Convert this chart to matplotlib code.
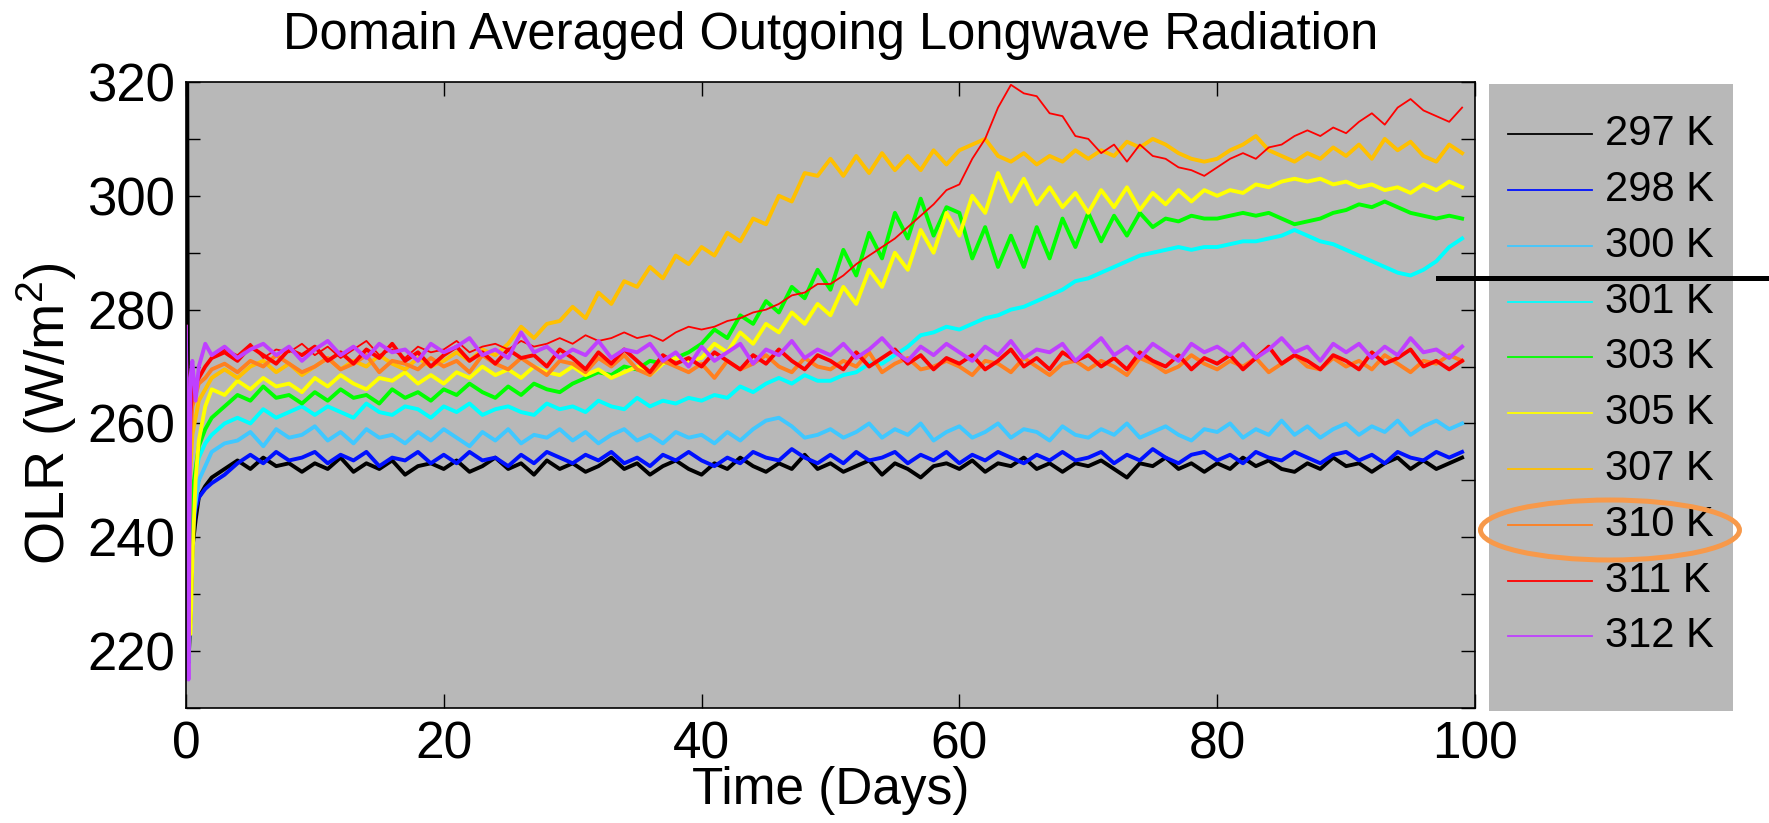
import matplotlib
matplotlib.use("Agg")
import matplotlib.pyplot as plt
from matplotlib.lines import Line2D
from matplotlib.patches import Ellipse
from matplotlib.ticker import MultipleLocator

plt.rcParams['font.family'] = ['Liberation Sans', 'DejaVu Sans']
plt.rcParams['mathtext.fontset'] = 'custom'
plt.rcParams['mathtext.rm'] = 'Liberation Sans'

# time axis (days): a few samples in the first day, then one per day
t_early = [0, 0.1, 0.2, 0.35, 0.5, 0.75, 1.0, 1.5]
t_daily = list(range(2, 100))
time_days = t_early + t_daily

labels = ['297 K', '298 K', '300 K', '301 K', '303 K',
          '305 K', '307 K', '310 K', '311 K', '312 K']
colors = ['#000000', '#0010FF', '#40C8FF', '#00FFFF', '#00FF00',
          '#FFFF00', '#FFC000', '#FF8020', '#FF0000', '#BF40FF']

# domain averaged OLR (W/m2)
olr_297 = [325, 322, 218, 226, 238, 243, 247, 249,
           250.5, 252, 253.5, 252, 254, 252.5, 253, 251.5,
           253, 252, 254, 251.5, 253, 252, 253.5, 251, 252.5, 253,
           252, 253.5, 251.5, 252.5, 254, 252, 253, 251, 253.5, 252,
           253, 251.5, 252.5, 254, 252, 253, 251, 252.5, 253.5, 252,
           251, 253, 252, 254, 252.5, 251.5, 253, 252, 254.5, 252,
           253, 251.5, 252.5, 253.5, 251, 253, 252, 250.5, 252.5, 253,
           252, 253.5, 251.5, 253, 252.5, 254, 252, 253, 251.5, 253,
           252.5, 253.5, 252, 250.5, 253, 252.5, 254, 252, 253, 251.5,
           253, 252, 254, 252.5, 253.5, 252, 251.5, 253, 252, 254,
           252.5, 253, 251.5, 253, 254, 252, 253.5, 252, 253, 254]

olr_298 = [270, 220, 222, 232, 240, 245, 247, 248.5,
           249.5, 251, 253, 254.5, 253, 255, 253.5, 254,
           255, 253, 254.5, 253.5, 255, 252.5, 254, 253.5, 255, 253,
           254.5, 253, 255, 253.5, 254, 252.5, 254.5, 253, 255, 254,
           253, 254.5, 253.5, 255, 253, 254, 252.5, 254.5, 253.5, 255,
           253.5, 252.5, 254, 253, 255, 254, 253.5, 255.5, 254, 253,
           254.5, 253, 255, 253.5, 254, 255, 253, 254.5, 253.5, 255,
           253, 254.5, 253.5, 255, 254, 253, 254.5, 253.5, 255, 253.5,
           254, 255, 253, 254.5, 253.5, 255.5, 254, 253, 254.5, 255,
           253.5, 254.5, 253, 255, 254, 253.5, 255, 254, 253, 254.5,
           255, 253.5, 254.5, 253, 255, 254, 253.5, 255, 254, 255]

olr_300 = [272, 225, 218, 230, 242, 246, 250, 252.5,
           255, 256.5, 257, 258.5, 256, 259, 257.5, 258,
           259.5, 257, 258.5, 256.5, 259, 257.5, 258, 256.5, 258.5, 257,
           259, 257.5, 256, 258.5, 257, 259, 256.5, 258, 257.5, 259,
           257, 258.5, 256.5, 258, 259, 257, 258, 256.5, 258.5, 257.5,
           258, 256.5, 258.5, 257, 259, 260.5, 261, 259.5, 257.5, 258,
           259, 257.5, 258.5, 260, 257.5, 259, 258, 260, 257, 258.5,
           259.5, 257.5, 258.5, 260, 257.5, 259, 258.5, 257, 259.5, 258,
           257.5, 259, 258, 260, 257.5, 258.5, 259.5, 258, 257, 259,
           258.5, 260, 257.5, 259, 258, 260.5, 258, 259.5, 257.5, 259,
           260, 258, 259.5, 258.5, 260.5, 258, 259.5, 260.5, 259, 260]

olr_301 = [273, 226, 222, 235, 248, 251, 254, 256.5,
           258, 260, 261, 260, 262.5, 261, 262, 263,
           261.5, 263, 262, 261, 263.5, 262, 261.5, 263, 262.5, 261,
           263, 262, 263.5, 261.5, 262.5, 263, 262, 261.5, 263.5, 262.5,
           263, 262, 264, 263, 262.5, 264.5, 263, 264, 263.5, 264.5,
           264, 265, 264.5, 266.5, 265.5, 267, 268, 267, 268.5, 267.5,
           267.5, 268.5, 269, 270.5, 270.5, 272, 273.5, 275.5, 276, 277,
           276.5, 277.5, 278.5, 279, 280, 280.5, 281.5, 282.5, 283.5, 285,
           285.5, 286.5, 287.5, 288.5, 289.5, 290, 290.5, 291, 290.5, 291,
           291, 291.5, 292, 292, 292.5, 293, 294, 293, 292, 291.5,
           290.5, 289.5, 288.5, 287.5, 286.5, 286, 287, 288.5, 291, 292.5]

olr_303 = [274, 228, 224, 238, 248, 252, 256, 259,
           261, 263, 265, 264, 266.5, 264.5, 265, 263.5,
           265.5, 264, 266, 264.5, 265, 263.5, 266, 264.5, 265.5, 264,
           266, 265, 267, 265.5, 264.5, 266.5, 265, 267, 266, 265.5,
           267, 268, 269, 268.5, 270, 269.5, 271, 270.5, 271.5, 272.5,
           274, 276.5, 275, 279, 277.5, 281.5, 279.5, 284, 282, 287,
           283.5, 290.5, 286, 293.5, 289, 297, 292.5, 299.5, 293, 298,
           297, 289, 294.5, 287.5, 293, 287.5, 294.5, 289, 296, 291,
           297, 292, 296.5, 293, 297, 294.5, 296, 295.5, 296.5, 296,
           296, 296.5, 297, 296.5, 297, 296, 295, 295.5, 296, 297,
           297.5, 298.5, 298, 299, 298, 297, 296.5, 296, 296.5, 296]

olr_305 = [275, 230, 224, 223, 236, 250, 257, 263,
           266, 265, 267.5, 266, 268, 266.5, 267, 265.5,
           268, 266.5, 268.5, 267, 266, 268, 267.5, 269, 267, 268.5,
           267, 269, 268, 270, 268.5, 269.5, 268, 270, 269, 268.5,
           270, 268.5, 269.5, 268, 269, 270, 268.5, 270.5, 271.5, 271,
           271.5, 274, 272.5, 276, 274, 277.5, 276, 279.5, 277.5, 281,
           279, 284, 281, 287, 284, 290, 287, 294, 290, 297,
           293, 300, 297, 304, 299, 303, 298.5, 301.5, 298, 300.5,
           297, 301, 298, 301.5, 297.5, 300.5, 298.5, 301, 299, 301,
           300, 301, 300.5, 302, 301.5, 302.5, 303, 302.5, 303, 302,
           302.5, 301.5, 302, 301, 301.5, 300.5, 302, 301, 302.5, 301.5]

olr_307 = [276, 232, 240, 252, 258, 261, 264, 266,
           268, 269.5, 268, 270, 271, 269, 270.5, 268.5,
           270, 271.5, 269.5, 271, 270, 272, 270.5, 269.5, 271.5, 270,
           271, 272.5, 271, 273, 272, 274, 277, 275, 277.5, 278,
           280.5, 278.5, 283, 281, 285, 284, 287.5, 285.5, 289.5, 288,
           291, 289.5, 293.5, 292, 296, 295, 300, 299, 304, 303.5,
           306.5, 303.5, 307, 304, 307.5, 304.5, 307, 304.5, 308, 305.5,
           308, 309, 310, 307, 306, 307.5, 305.5, 307, 306, 308,
           306.5, 308, 307, 309.5, 308.5, 310, 309, 307.5, 306.5, 306,
           306.5, 308, 309, 310.5, 308, 307, 306, 307.5, 306.5, 308.5,
           307, 309, 306.5, 310, 308, 309.5, 307, 306, 309, 307.5]

olr_310 = [276, 235, 245, 258, 263, 265, 267, 268,
           269.5, 270.5, 269, 271, 270, 272, 270.5, 269,
           270, 271.5, 269.5, 270.5, 272, 269, 271, 270.5, 269.5, 271.5,
           270, 271, 269, 272, 270.5, 269.5, 271.5, 270, 268.5, 271,
           270.5, 269, 271.5, 270, 272, 269.5, 268.5, 271, 270, 269,
           270.5, 268, 271, 269.5, 270.5, 272, 270, 269, 271.5, 270,
           269.5, 271, 270, 272.5, 269, 270.5, 271.5, 269.5, 270, 271,
           270, 268.5, 271, 270.5, 269, 271.5, 270, 268.5, 270.5, 271,
           269.5, 271, 270, 268.5, 271.5, 270.5, 269, 270, 272, 270.5,
           269.5, 271, 270, 271.5, 269, 270.5, 272, 270, 269.5, 271.5,
           270, 271, 269.5, 272, 270.5, 269, 271, 270.5, 272, 271]

olr_311 = [277, 238, 250, 262, 266, 267, 268, 270,
           271.5, 272.5, 271, 273.5, 272, 270.5, 273, 272,
           273.5, 271, 272.5, 270.5, 273, 271.5, 274, 271, 272.5, 270,
           272, 273.5, 271, 272.5, 270.5, 273, 271.5, 272, 270, 273,
           271.5, 269.5, 272.5, 270.5, 273, 271, 269, 272, 270.5, 271.5,
           270, 272.5, 271, 269.5, 272, 270.5, 273, 271, 269.5, 272,
           271, 269.5, 272.5, 270, 271.5, 273, 270.5, 272, 269.5, 271.5,
           270.5, 272, 269.5, 271, 273, 270, 271.5, 269.5, 272.5, 271,
           272, 270, 271.5, 269.5, 272.5, 271, 270, 272, 269.5, 271.5,
           270.5, 272, 269.5, 271.5, 273.5, 270.5, 272, 271, 269.5, 272,
           271, 269.5, 272.5, 270.5, 271.5, 273, 270, 271, 269.5, 271]

# second red run (thin line) that warms up after day 30
olr_311_run2 = [277, 238, 250, 262, 266, 267, 268, 270,
                271.5, 273, 272, 274, 271.5, 273, 272.5, 274,
                272, 273.5, 271.5, 273, 274.5, 272, 273, 271.5, 273.5, 272.5,
                273, 274.5, 272.5, 273.5, 274, 273, 274.5, 273.5, 274, 275,
                274, 275.5, 274.5, 275, 276, 275, 275.5, 274.5, 276, 277,
                276.5, 277, 278, 278.5, 279.5, 280, 281, 282.5, 283, 284.5,
                284.5, 286, 288, 289.5, 291, 292.5, 294.5, 296.5, 298.5, 301,
                302, 306.5, 310, 315.5, 319.5, 318, 317.5, 314.5, 314, 310.5,
                310, 307.5, 309, 306, 309, 307, 306.5, 305, 304.5, 303.5,
                305, 306.5, 307.5, 306.5, 308.5, 309, 310.5, 311.5, 310.5, 312,
                311, 313, 314.5, 312.5, 315.5, 317, 315, 314, 313, 315.5]

olr_312 = [277, 250, 215, 268, 271, 264, 270, 274,
           272, 273.5, 271.5, 273, 274, 272, 273.5, 271,
           273, 274.5, 272, 273.5, 271.5, 274, 272.5, 273, 271, 274,
           272.5, 273.5, 275, 272, 273, 271.5, 276, 272.5, 273.5, 271.5,
           273, 272, 274.5, 271.5, 273, 272.5, 274, 271, 272.5, 270,
           273.5, 271, 272.5, 274, 270.5, 273, 272, 274.5, 271.5, 273,
           272, 274, 271.5, 273, 275, 272.5, 271, 273.5, 272, 274,
           272.5, 271, 273.5, 272, 274.5, 271.5, 273, 272.5, 274, 271,
           273, 275, 272, 273.5, 271.5, 274, 272.5, 271, 274, 272.5,
           273.5, 272, 274, 271.5, 273, 275, 272.5, 273.5, 271, 274,
           272.5, 274, 271.5, 273.5, 272, 275, 272.5, 273, 271.5, 273.5]

series = [olr_297, olr_298, olr_300, olr_301, olr_303,
          olr_305, olr_307, olr_310, olr_311, olr_312]

GRAY = '#B8B8B8'

fig = plt.figure(figsize=(17.69, 8.23), dpi=100)
ax = fig.add_axes([0.1051, 0.1397, 0.7287, 0.7607])
ax.set_facecolor(GRAY)

for i, (vals, col) in enumerate(zip(series, colors)):
    ax.plot(time_days, vals, color=col, lw=2.8)
    if labels[i] == '311 K':
        ax.plot(time_days, olr_311_run2, color=col, lw=1.3)

ax.set_xlim(0, 100)
ax.set_ylim(210, 320)
ax.xaxis.set_major_locator(MultipleLocator(20))
ax.yaxis.set_major_locator(MultipleLocator(20))
ax.yaxis.set_minor_locator(MultipleLocator(10))
ax.tick_params(which='both', direction='in', length=10, width=1,
               top=True, right=True, colors='black')
ax.tick_params(axis='x', labelsize=37, pad=9)
ax.tick_params(axis='y', labelsize=38, pad=8)
for sp in ax.spines.values():
    sp.set_linewidth(1.2)

ax.set_xlabel('Time (Days)', fontsize=37)
ax.xaxis.set_label_coords(0.5, -0.092)
ax.set_ylabel(r'OLR (W/m$^\mathregular{2}$)', fontsize=40)
ax.yaxis.set_label_coords(-0.083, 0.47)

fig.text(0.4694, 0.941, 'Domain Averaged Outgoing Longwave Radiation',
         ha='center', va='baseline', fontsize=36.5)

# legend panel
lax = fig.add_axes([0.8417, 0.1361, 0.1379, 0.7618])
lax.set_facecolor(GRAY)
lax.set_xlim(0, 1)
lax.set_ylim(0, 1)
lax.set_xticks([])
lax.set_yticks([])
for sp in lax.spines.values():
    sp.set_visible(False)
for i, (lab, col) in enumerate(zip(labels, colors)):
    yy = 0.920 - i * 0.089
    lax.plot([0.078, 0.422], [yy, yy], color=col, lw=1.3)
    lax.text(0.475, yy, lab, fontsize=30, va='center', ha='left')

# annotations: highlight ellipse around 310 K and the horizontal marker
fig.add_artist(Ellipse((0.9101, 0.3560), 0.1464, 0.0729,
                       transform=fig.transFigure, fill=False,
                       ec='#F7994A', lw=3.6))
fig.add_artist(Line2D([0.8129, 1.0], [0.6628, 0.6628],
                      transform=fig.transFigure, color='black', lw=3.6))

fig.savefig('out.png', dpi=100)
